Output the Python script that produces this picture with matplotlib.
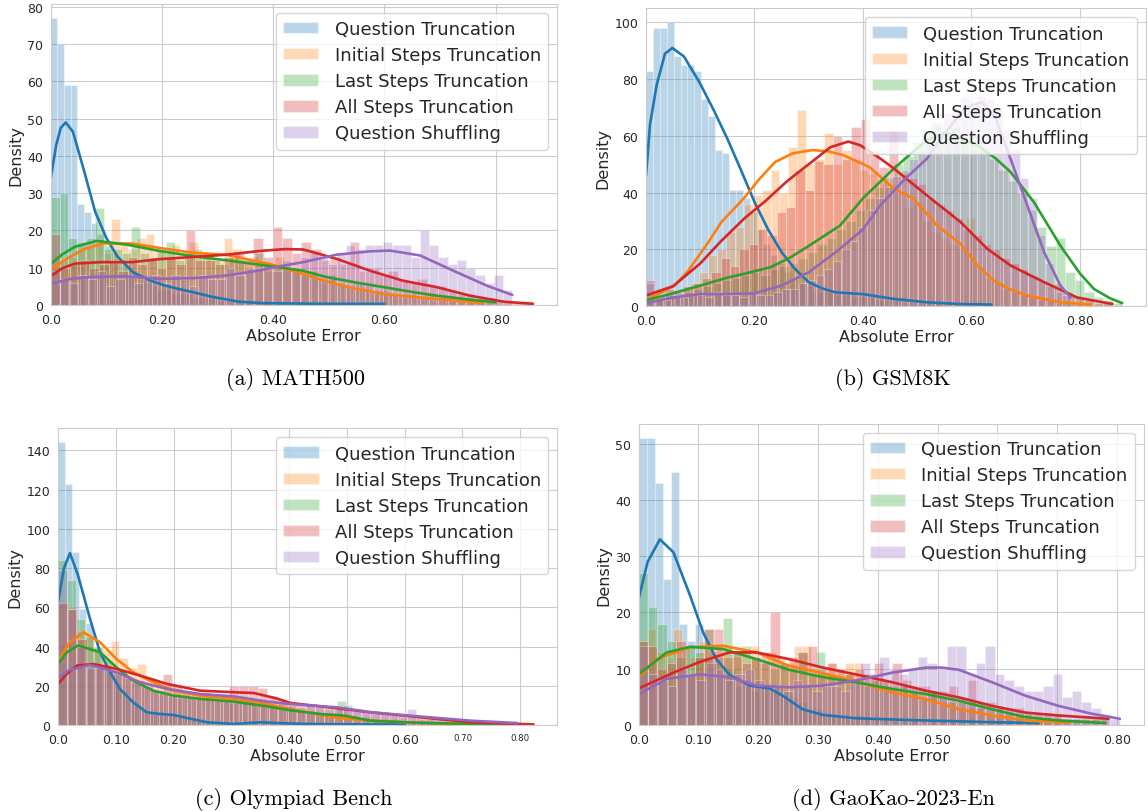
import matplotlib.pyplot as plt
import numpy as np
import seaborn as sns
from matplotlib.patches import Patch

sns.set_style("whitegrid")
plt.rcParams['font.family'] = ['DejaVu Sans']

LABELS = ["Question Truncation", "Initial Steps Truncation", "Last Steps Truncation",
          "All Steps Truncation", "Question Shuffling"]
COLORS = ["#1f77b4", "#ff7f0e", "#2ca02c", "#d62728", "#9467bd"]

# ---------------- (a) MATH500 ----------------
math_qt_hist = [77, 70, 59, 59, 27, 25, 22, 19, 15, 14, 12, 11, 9, 7, 6, 5, 4, 4, 3, 3, 3, 2, 2, 2, 2,
                1, 1, 1, 1, 1, 1, 0, 1, 0, 1, 0, 0, 1, 0, 0, 0, 1, 0, 0, 0, 0, 0, 0, 0, 1]
math_is_hist = [10, 12, 13, 15, 16, 17, 14, 23, 17, 15, 18, 19, 15, 14, 16, 13, 17, 14, 13, 12, 18, 15, 12, 13, 11,
                10, 13, 9, 10, 8, 7, 6, 7, 5, 5, 4, 4, 3, 3, 3, 2, 3, 2, 2, 1, 2, 1, 1, 1, 1]
math_ls_hist = [29, 30, 18, 17, 18, 26, 16, 15, 14, 21, 14, 13, 15, 17, 12, 14, 15, 13, 12, 11, 13, 12, 10, 14, 9,
                11, 10, 9, 8, 9, 7, 8, 6, 5, 6, 5, 4, 4, 3, 3, 3, 2, 3, 2, 2, 1, 1, 1, 1, 1]
math_as_hist = [19, 10, 11, 12, 10, 11, 12, 9, 13, 11, 12, 10, 13, 11, 20, 12, 12, 11, 13, 14, 12, 18, 13, 21, 18,
                14, 17, 15, 12, 13, 11, 17, 9, 10, 8, 9, 7, 6, 7, 5, 5, 4, 3, 3, 2, 2, 1, 1, 1, 1]
math_sh_hist = [9, 7, 6, 8, 7, 9, 5, 7, 8, 6, 7, 8, 6, 8, 7, 5, 8, 7, 7, 10, 8, 9, 10, 11, 9,
                12, 10, 13, 14, 13, 11, 14, 16, 15, 16, 16, 17, 16, 16, 13, 20, 16, 13, 11, 12, 10, 8, 6, 8, 4]
math_qt_kx = [0, 0.01, 0.018, 0.027, 0.04, 0.06, 0.08, 0.1, 0.12, 0.148, 0.18, 0.206, 0.23, 0.254, 0.29, 0.338,
              0.38, 0.43, 0.5, 0.55, 0.6]
math_qt_ky = [34, 43, 47.5, 49, 46.5, 36, 25, 18, 13, 8.8, 6.5, 5.2, 4.3, 3.5, 2.2, 0.9, 0.5, 0.4, 0.3, 0.3, 0.3]
math_is_kx = [0, 0.03, 0.06, 0.094, 0.146, 0.196, 0.256, 0.316, 0.376, 0.394, 0.45, 0.496, 0.55, 0.598, 0.65,
              0.694, 0.74, 0.777]
math_is_ky = [9.5, 12.5, 15, 16.5, 16.5, 15.3, 14, 13.5, 11.5, 11, 8.5, 6.3, 4.3, 3, 2.2, 1.6, 1, 0.5]
math_ls_kx = [0, 0.02, 0.043, 0.083, 0.137, 0.196, 0.256, 0.316, 0.376, 0.45, 0.496, 0.55, 0.598, 0.65, 0.694,
              0.75, 0.8]
math_ls_ky = [11, 13.5, 15.6, 17.2, 16.2, 14.5, 13.1, 12, 10.8, 9.3, 7.5, 6, 4.8, 3.5, 2.5, 1.5, 0.7]
math_as_kx = [0, 0.02, 0.043, 0.09, 0.146, 0.196, 0.256, 0.316, 0.376, 0.42, 0.454, 0.514, 0.574, 0.634, 0.694,
              0.754, 0.814, 0.867]
math_as_ky = [7.7, 9.8, 11.1, 11.5, 11.5, 12.3, 12.9, 13.5, 14.5, 15, 14.9, 12.4, 9.2, 6.5, 4.8, 2.5, 0.9, 0.3]
math_sh_kx = [0, 0.035, 0.07, 0.135, 0.196, 0.256, 0.316, 0.376, 0.394, 0.454, 0.514, 0.574, 0.61, 0.664, 0.724,
              0.784, 0.83]
math_sh_ky = [5.7, 7.0, 7.5, 7.7, 7.0, 7.2, 7.9, 9.3, 9.9, 11.5, 13.5, 14.4, 14.6, 13.3, 9.2, 5.2, 2.7]

# ---------------- (b) GSM8K ----------------
gsm_qt_hist = [83, 98, 98, 100, 88, 85, 85, 83, 73, 67, 55, 54, 41, 41, 38, 33, 27, 22, 18, 15, 12, 10, 8, 7, 6,
               5, 5, 4, 4, 4, 3, 3, 3, 2, 2, 2, 2, 1, 1, 1, 1, 1, 1, 0, 1, 0, 1, 0, 0, 1]
gsm_is_hist = [2, 2, 3, 4, 6, 8, 12, 18, 20, 26, 28, 36, 39, 41, 48, 40, 56, 69, 50, 52, 61, 50, 55, 52, 48,
               47, 45, 42, 40, 35, 36, 30, 26, 24, 22, 20, 31, 14, 10, 8, 6, 5, 4, 3, 2, 2, 1, 1, 1, 1]
gsm_ls_hist = [3, 2, 4, 4, 5, 6, 7, 8, 9, 10, 11, 12, 11, 13, 14, 15, 17, 19, 22, 24, 27, 30, 34, 38, 42,
               45, 50, 53, 58, 62, 65, 61, 63, 60, 57, 55, 52, 48, 44, 40, 34, 28, 21, 24, 12, 9, 5, 3, 2, 1]
gsm_as_hist = [9, 4, 6, 5, 7, 8, 10, 12, 17, 14, 20, 22, 27, 25, 33, 35, 48, 41, 51, 50, 60, 52, 63, 66, 55,
               49, 62, 47, 45, 43, 38, 36, 34, 31, 27, 25, 22, 20, 17, 15, 13, 11, 9, 7, 5, 4, 3, 2, 1, 1]
gsm_sh_hist = [8, 2, 2, 3, 3, 4, 4, 3, 5, 4, 4, 3, 5, 4, 4, 5, 6, 6, 8, 9, 11, 13, 16, 20, 23,
               28, 34, 38, 42, 46, 48, 52, 55, 60, 64, 68, 70, 74, 72, 74, 73, 70, 62, 55, 45, 38, 25, 15, 8, 4]
gsm_qt_kx = [0, 0.0074, 0.0197, 0.035, 0.0486, 0.07, 0.0997, 0.125, 0.15, 0.175, 0.2, 0.225, 0.25, 0.275, 0.3,
             0.325, 0.35, 0.4, 0.457, 0.518, 0.58, 0.637]
gsm_qt_ky = [46, 64, 78, 89, 91, 88, 78.5, 69, 59, 48, 36.7, 27, 19, 13, 8.4, 6.2, 4.8, 4.2, 2.5, 1.3, 0.7, 0.5]
gsm_is_kx = [0, 0.053, 0.078, 0.115, 0.139, 0.18, 0.21, 0.238, 0.27, 0.306, 0.335, 0.364, 0.412, 0.457, 0.493,
             0.537, 0.58, 0.611, 0.641, 0.67, 0.703, 0.764, 0.82]
gsm_is_ky = [2, 7.2, 12.5, 22.5, 29.6, 37.9, 45, 50.8, 53.8, 55, 54.6, 53.2, 49, 41.4, 37.9, 28.4, 21.9, 14.3, 9,
             6, 3.7, 1.3, 0.5]
gsm_ls_kx = [0, 0.05, 0.1, 0.15, 0.18, 0.23, 0.265, 0.297, 0.358, 0.40, 0.43, 0.457, 0.49, 0.518, 0.55, 0.567,
             0.611, 0.645, 0.672, 0.715, 0.764, 0.8, 0.826, 0.855, 0.878]
gsm_ls_ky = [2, 4.5, 7.2, 10, 11.3, 13.7, 17, 20.8, 28.4, 38, 43.5, 48.5, 54, 58.5, 61, 60.3, 56.7, 52, 47.3, 36.7,
             21.3, 11.5, 6, 2.8, 1]
gsm_as_kx = [0, 0.05, 0.1, 0.139, 0.182, 0.22, 0.26, 0.3, 0.34, 0.373, 0.395, 0.432, 0.457, 0.518, 0.58, 0.629,
             0.672, 0.734, 0.795, 0.86]
gsm_as_ky = [3.7, 7, 15, 23, 31, 37, 44, 50, 56, 58, 56.7, 52, 48.5, 39, 29.6, 20.2, 14.3, 8.4, 3, 0.7]
gsm_sh_kx = [0, 0.05, 0.1, 0.15, 0.2, 0.25, 0.3, 0.35, 0.4, 0.432, 0.475, 0.518, 0.555, 0.59, 0.62, 0.645, 0.672,
             0.703, 0.734, 0.764, 0.783]
gsm_sh_ky = [1, 3, 4.2, 4.2, 4.5, 7.2, 11.9, 19, 27, 35.5, 44.3, 52, 62, 70, 72, 66, 52, 35.5, 19, 7.2, 3]

# ---------------- (c) Olympiad Bench ----------------
oly_qt_hist = [144, 123, 88, 59, 52, 38, 30, 27, 22, 18, 14, 10, 8, 6, 6, 5, 5, 4, 4, 3, 3, 2, 2, 2, 1,
               1, 1, 1, 1, 1, 1, 1, 1, 0, 1, 0, 1, 0, 0, 1, 0, 0, 0, 1, 0, 0, 0, 0, 0, 1]
oly_is_hist = [62, 60, 48, 46, 40, 38, 43, 34, 29, 31, 24, 22, 20, 18, 17, 16, 15, 15, 14, 13, 14, 12, 13, 11, 10,
               9, 8, 7, 6, 5, 5, 4, 3, 3, 2, 2, 2, 2, 1, 1, 1, 1, 1, 1, 1, 0, 1, 0, 0, 1]
oly_ls_hist = [84, 74, 54, 45, 40, 33, 28, 25, 22, 20, 18, 16, 15, 14, 14, 13, 13, 12, 12, 11, 12, 11, 10, 10, 9,
               9, 8, 7, 7, 6, 6, 12, 5, 4, 4, 3, 3, 3, 2, 2, 2, 2, 1, 1, 1, 1, 1, 1, 1, 1]
oly_as_hist = [62, 59, 44, 29, 29, 28, 26, 24, 23, 20, 18, 26, 21, 17, 16, 17, 15, 14, 20, 20, 20, 19, 15, 13, 12,
               11, 10, 10, 9, 9, 8, 8, 7, 6, 6, 5, 4, 4, 3, 3, 3, 2, 2, 2, 1, 1, 1, 1, 1, 1]
oly_sh_hist = [79, 59, 40, 30, 29, 28, 27, 25, 22, 20, 18, 17, 16, 15, 15, 14, 15, 13, 12, 13, 12, 11, 12, 10, 11,
               10, 9, 10, 9, 8, 8, 10, 7, 7, 6, 6, 5, 5, 8, 4, 4, 3, 3, 2, 3, 2, 1, 1, 1, 1]
oly_qt_kx = [0, 0.0104, 0.0208, 0.0347, 0.0555, 0.0728, 0.09, 0.107, 0.13, 0.153, 0.177, 0.2, 0.223, 0.258,
             0.304, 0.35, 0.379, 0.42, 0.47, 0.53, 0.6]
oly_qt_ky = [62.6, 80, 87.6, 76.2, 54, 37, 27, 18.4, 11.6, 6.5, 5.6, 5.1, 3.6, 1.4, 0.5, 1.4, 1, 0.6, 0.4, 0.3, 0.2]
oly_is_kx = [0, 0.02, 0.0439, 0.0728, 0.101, 0.13, 0.159, 0.2, 0.246, 0.304, 0.362, 0.402, 0.483, 0.541, 0.598,
             0.65, 0.7, 0.76]
oly_is_ky = [32.3, 42, 47.3, 42.2, 33.7, 26.9, 22.6, 17.5, 15, 13.3, 10.7, 8.2, 3.6, 2.2, 1.4, 0.9, 0.6, 0.3]
oly_ls_kx = [0, 0.015, 0.0347, 0.0728, 0.101, 0.13, 0.165, 0.2, 0.246, 0.304, 0.362, 0.402, 0.454, 0.495, 0.541,
             0.598, 0.68, 0.78]
oly_ls_ky = [31.1, 37, 40.5, 37.1, 29.4, 22.6, 17.5, 15, 13.3, 11.9, 9.5, 7.5, 5.6, 4.8, 2.2, 1.4, 0.7, 0.3]
oly_as_kx = [0, 0.015, 0.033, 0.061, 0.101, 0.142, 0.189, 0.246, 0.304, 0.339, 0.379, 0.402, 0.454, 0.541, 0.628,
             0.714, 0.77, 0.823]
oly_as_ky = [20.9, 26, 30.3, 31.1, 28.6, 25.2, 20.9, 17.5, 16.7, 16.3, 13.5, 11.2, 9.5, 6.5, 3.9, 1.4, 0.8, 0.3]
oly_sh_kx = [0, 0.02, 0.0543, 0.101, 0.142, 0.189, 0.246, 0.304, 0.362, 0.402, 0.483, 0.541, 0.628, 0.714, 0.795]
oly_sh_ky = [23.8, 28, 30.6, 26.9, 21.8, 18.4, 15.8, 14.6, 11.9, 10.7, 9, 6.5, 4.3, 2.2, 1]

# ---------------- (d) GaoKao-2023-En ----------------
gk_qt_hist = [51, 51, 43, 26, 45, 18, 15, 18, 12, 11, 9, 10, 7, 8, 6, 7, 6, 7, 6, 5, 4, 3, 3, 2, 2,
              2, 1, 2, 1, 1, 1, 1, 1, 1, 1, 0, 1, 1, 0, 1, 0, 1, 0, 0, 1, 0, 0, 0, 0, 1]
gk_is_hist = [15, 17, 13, 12, 17, 14, 12, 15, 13, 14, 14, 12, 13, 14, 11, 13, 12, 11, 14, 14, 10, 9, 11, 10, 11,
              11, 9, 8, 8, 7, 7, 6, 6, 5, 6, 4, 4, 3, 3, 3, 2, 2, 2, 1, 2, 1, 1, 1, 1, 1]
gk_ls_hist = [27, 21, 18, 15, 12, 14, 13, 17, 12, 19, 13, 14, 12, 11, 10, 11, 10, 13, 9, 13, 9, 8, 9, 8, 7,
              8, 7, 6, 7, 6, 5, 6, 5, 4, 4, 4, 3, 3, 3, 2, 2, 2, 1, 1, 1, 1, 1, 1, 1, 1]
gk_as_hist = [15, 14, 10, 11, 15, 9, 12, 17, 17, 12, 13, 11, 12, 13, 20, 11, 12, 13, 14, 10, 11, 10, 9, 10, 9,
              11, 8, 11, 8, 7, 7, 6, 6, 7, 5, 8, 4, 4, 3, 3, 3, 2, 2, 2, 2, 1, 1, 1, 1, 1]
gk_sh_hist = [14, 9, 8, 7, 10, 9, 8, 11, 10, 8, 9, 10, 8, 7, 7, 6, 8, 7, 6, 7, 7, 6, 8, 11, 9,
              12, 10, 9, 10, 12, 11, 10, 14, 14, 9, 11, 14, 9, 8, 7, 6, 6, 7, 9, 5, 6, 4, 3, 2, 1]
gk_qt_kx = [0, 0.015, 0.0354, 0.058, 0.086, 0.108, 0.13, 0.152, 0.186, 0.219, 0.241, 0.274, 0.308, 0.363, 0.42,
            0.48, 0.591, 0.669]
gk_qt_ky = [22.5, 29, 33, 30.7, 23, 16.4, 11.7, 8.9, 7, 6.5, 5.2, 2.8, 1.8, 1.2, 1, 0.8, 0.5, 0.35]
gk_is_kx = [0, 0.03, 0.086, 0.141, 0.197, 0.252, 0.308, 0.363, 0.424, 0.48, 0.536, 0.591, 0.647, 0.72]
gk_is_ky = [8.5, 11.7, 13.8, 14.1, 12.9, 10.5, 9.2, 7.8, 5.8, 4.6, 2.8, 1.7, 0.8, 0.4]
gk_ls_kx = [0, 0.047, 0.086, 0.141, 0.197, 0.252, 0.308, 0.363, 0.424, 0.48, 0.536, 0.591, 0.647, 0.702, 0.781]
gk_ls_ky = [9, 12.9, 13.9, 13.5, 11.7, 9.8, 8.5, 7.6, 6.4, 5.5, 4.3, 2.8, 1.4, 0.8, 0.35]
gk_as_kx = [0, 0.058, 0.102, 0.152, 0.197, 0.252, 0.308, 0.363, 0.424, 0.48, 0.536, 0.591, 0.647, 0.702, 0.786]
gk_as_ky = [6.5, 9.3, 11.2, 12.9, 12.9, 11.7, 10.2, 9, 7.6, 6.1, 4.9, 3.4, 2.2, 1.7, 1.1]
gk_sh_kx = [0, 0.047, 0.102, 0.152, 0.197, 0.252, 0.308, 0.363, 0.424, 0.48, 0.508, 0.536, 0.591, 0.647, 0.702,
            0.758, 0.805]
gk_sh_ky = [5.5, 8.2, 9, 8.5, 7, 6.7, 7, 7.9, 9.3, 10.2, 10.2, 9.8, 7.6, 5.2, 3.4, 2, 1.1]

CAPTIONS = ["(a) MATH500", "(b) GSM8K", "(c) Olympiad Bench", "(d) GaoKao-2023-En"]


def draw_panel(ax, hists, kxs, kys, xticks, xticklabels, yticks):
    for i in range(5):
        h = np.array(hists[i], dtype=float)
        w = kxs[i][-1] / len(h)
        ax.bar(np.arange(len(h)) * w, h, width=w, align="edge", color=COLORS[i],
               alpha=0.3, edgecolor="white", linewidth=0.8)
    for i in range(5):
        ax.plot(kxs[i], kys[i], color=COLORS[i], lw=1.9, solid_joinstyle="round")
    xmax = max(k[-1] for k in kxs) * 1.05
    ymax = max(max(h) for h in hists) * 1.05
    ax.set_xlim(0, xmax)
    ax.set_ylim(0, ymax)
    ax.set_xticks(xticks)
    ax.set_xticklabels(xticklabels)
    ax.set_yticks(yticks)
    ax.tick_params(labelsize=9, colors="#262626", pad=2)
    ax.set_xlabel("Absolute Error", fontsize=11.5, color="#262626", labelpad=2)
    ax.set_ylabel("Density", fontsize=11.5, color="#262626", labelpad=3)
    for s in ax.spines.values():
        s.set_color("#cccccc")
    handles = [Patch(facecolor=c, alpha=0.3, edgecolor="white") for c in COLORS]
    ax.legend(handles, LABELS, loc="upper right", fontsize=13, handlelength=1.95,
              handleheight=0.6, handletextpad=0.9, labelspacing=0.45, framealpha=0.8)


fig = plt.figure(figsize=(11.48, 8.12), dpi=100)
W, H = 1148, 812

ax_a = fig.add_axes([50.7 / W, (H - 306) / H, 506.3 / W, 301.3 / H])
draw_panel(ax_a,
           [math_qt_hist, math_is_hist, math_ls_hist, math_as_hist, math_sh_hist],
           [math_qt_kx, math_is_kx, math_ls_kx, math_as_kx, math_sh_kx],
           [math_qt_ky, math_is_ky, math_ls_ky, math_as_ky, math_sh_ky],
           [0, 0.2, 0.4, 0.6, 0.8], ["0.0", "0.20", "0.40", "0.60", "0.80"], range(0, 81, 10))

ax_b = fig.add_axes([646 / W, (H - 307) / H, 500 / W, 297.7 / H])
draw_panel(ax_b,
           [gsm_qt_hist, gsm_is_hist, gsm_ls_hist, gsm_as_hist, gsm_sh_hist],
           [gsm_qt_kx, gsm_is_kx, gsm_ls_kx, gsm_as_kx, gsm_sh_kx],
           [gsm_qt_ky, gsm_is_ky, gsm_ls_ky, gsm_as_ky, gsm_sh_ky],
           [0, 0.2, 0.4, 0.6, 0.8], ["0.0", "0.20", "0.40", "0.60", "0.80"], range(0, 101, 20))

ax_c = fig.add_axes([58 / W, (H - 726) / H, 499.3 / W, 296.7 / H])
draw_panel(ax_c,
           [oly_qt_hist, oly_is_hist, oly_ls_hist, oly_as_hist, oly_sh_hist],
           [oly_qt_kx, oly_is_kx, oly_ls_kx, oly_as_kx, oly_sh_kx],
           [oly_qt_ky, oly_is_ky, oly_ls_ky, oly_as_ky, oly_sh_ky],
           [0, 0.1, 0.2, 0.3, 0.4, 0.5, 0.6, 0.7, 0.8],
           ["0.0", "0.10", "0.20", "0.30", "0.40", "0.50", "0.60", "0.70", "0.80"], range(0, 141, 20))
for lab in ax_c.get_xticklabels()[-2:]:
    lab.set_fontsize(6.2)

ax_d = fig.add_axes([638.7 / W, (H - 726) / H, 505.3 / W, 301.3 / H])
draw_panel(ax_d,
           [gk_qt_hist, gk_is_hist, gk_ls_hist, gk_as_hist, gk_sh_hist],
           [gk_qt_kx, gk_is_kx, gk_ls_kx, gk_as_kx, gk_sh_kx],
           [gk_qt_ky, gk_is_ky, gk_ls_ky, gk_as_ky, gk_sh_ky],
           [0, 0.1, 0.2, 0.3, 0.4, 0.5, 0.6, 0.7, 0.8],
           ["0.0", "0.10", "0.20", "0.30", "0.40", "0.50", "0.60", "0.70", "0.80"], range(0, 51, 10))

# sub-figure captions
for (cx, cy), cap in zip([(295, 380), (893, 380), (294, 800), (893, 800)], CAPTIONS):
    fig.text(cx / W, 1 - cy / H, cap, ha="center", va="center", fontsize=16,
             family="cmr10", color="black")

fig.savefig("out.png", dpi=100)
